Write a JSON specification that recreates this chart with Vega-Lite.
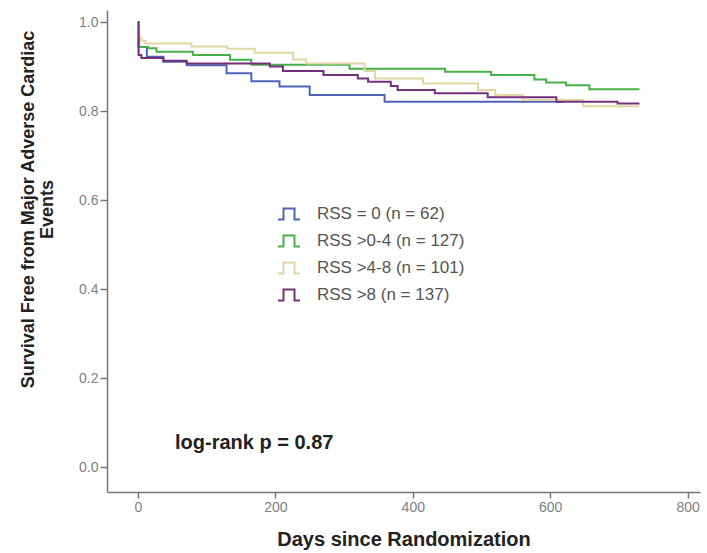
{
  "$schema": "https://vega.github.io/schema/vega-lite/v6.json",
  "width": 593,
  "height": 482,
  "autosize": {"type": "none"},
  "padding": {"left": 107, "top": 10, "right": 7, "bottom": 61},
  "background": "white",
  "config": {"view": {"stroke": null}, "font": "Liberation Sans"},
  "layer": [
    {
      "data": {"values": [
        {"group": "RSS = 0 (n = 62)", "day": 0, "surv": 1.0},
        {"group": "RSS = 0 (n = 62)", "day": 1, "surv": 0.944},
        {"group": "RSS = 0 (n = 62)", "day": 13, "surv": 0.922},
        {"group": "RSS = 0 (n = 62)", "day": 37, "surv": 0.911},
        {"group": "RSS = 0 (n = 62)", "day": 71, "surv": 0.903},
        {"group": "RSS = 0 (n = 62)", "day": 129, "surv": 0.885},
        {"group": "RSS = 0 (n = 62)", "day": 165, "surv": 0.867},
        {"group": "RSS = 0 (n = 62)", "day": 206, "surv": 0.855},
        {"group": "RSS = 0 (n = 62)", "day": 250, "surv": 0.836},
        {"group": "RSS = 0 (n = 62)", "day": 359, "surv": 0.821},
        {"group": "RSS = 0 (n = 62)", "day": 620, "surv": 0.821},

        {"group": "RSS >0-4 (n = 127)", "day": 0, "surv": 1.0},
        {"group": "RSS >0-4 (n = 127)", "day": 1, "surv": 0.944},
        {"group": "RSS >0-4 (n = 127)", "day": 15, "surv": 0.941},
        {"group": "RSS >0-4 (n = 127)", "day": 27, "surv": 0.933},
        {"group": "RSS >0-4 (n = 127)", "day": 80, "surv": 0.926},
        {"group": "RSS >0-4 (n = 127)", "day": 134, "surv": 0.915},
        {"group": "RSS >0-4 (n = 127)", "day": 165, "surv": 0.904},
        {"group": "RSS >0-4 (n = 127)", "day": 308, "surv": 0.895},
        {"group": "RSS >0-4 (n = 127)", "day": 447, "surv": 0.888},
        {"group": "RSS >0-4 (n = 127)", "day": 514, "surv": 0.881},
        {"group": "RSS >0-4 (n = 127)", "day": 577, "surv": 0.871},
        {"group": "RSS >0-4 (n = 127)", "day": 594, "surv": 0.864},
        {"group": "RSS >0-4 (n = 127)", "day": 623, "surv": 0.858},
        {"group": "RSS >0-4 (n = 127)", "day": 657, "surv": 0.849},
        {"group": "RSS >0-4 (n = 127)", "day": 730, "surv": 0.849},

        {"group": "RSS >4-8 (n = 101)", "day": 0, "surv": 1.0},
        {"group": "RSS >4-8 (n = 101)", "day": 1, "surv": 0.965},
        {"group": "RSS >4-8 (n = 101)", "day": 5, "surv": 0.958},
        {"group": "RSS >4-8 (n = 101)", "day": 11, "surv": 0.952},
        {"group": "RSS >4-8 (n = 101)", "day": 78, "surv": 0.945},
        {"group": "RSS >4-8 (n = 101)", "day": 130, "surv": 0.940},
        {"group": "RSS >4-8 (n = 101)", "day": 170, "surv": 0.931},
        {"group": "RSS >4-8 (n = 101)", "day": 226, "surv": 0.916},
        {"group": "RSS >4-8 (n = 101)", "day": 245, "surv": 0.907},
        {"group": "RSS >4-8 (n = 101)", "day": 330, "surv": 0.890},
        {"group": "RSS >4-8 (n = 101)", "day": 345, "surv": 0.873},
        {"group": "RSS >4-8 (n = 101)", "day": 415, "surv": 0.862},
        {"group": "RSS >4-8 (n = 101)", "day": 495, "surv": 0.847},
        {"group": "RSS >4-8 (n = 101)", "day": 520, "surv": 0.836},
        {"group": "RSS >4-8 (n = 101)", "day": 560, "surv": 0.825},
        {"group": "RSS >4-8 (n = 101)", "day": 648, "surv": 0.811},
        {"group": "RSS >4-8 (n = 101)", "day": 730, "surv": 0.811},

        {"group": "RSS >8 (n = 137)", "day": 0, "surv": 1.0},
        {"group": "RSS >8 (n = 137)", "day": 1, "surv": 0.926},
        {"group": "RSS >8 (n = 137)", "day": 5, "surv": 0.919},
        {"group": "RSS >8 (n = 137)", "day": 37, "surv": 0.913},
        {"group": "RSS >8 (n = 137)", "day": 71, "surv": 0.907},
        {"group": "RSS >8 (n = 137)", "day": 192, "surv": 0.900},
        {"group": "RSS >8 (n = 137)", "day": 211, "surv": 0.890},
        {"group": "RSS >8 (n = 137)", "day": 270, "surv": 0.881},
        {"group": "RSS >8 (n = 137)", "day": 320, "surv": 0.873},
        {"group": "RSS >8 (n = 137)", "day": 335, "surv": 0.866},
        {"group": "RSS >8 (n = 137)", "day": 368, "surv": 0.856},
        {"group": "RSS >8 (n = 137)", "day": 378, "surv": 0.847},
        {"group": "RSS >8 (n = 137)", "day": 432, "surv": 0.840},
        {"group": "RSS >8 (n = 137)", "day": 509, "surv": 0.831},
        {"group": "RSS >8 (n = 137)", "day": 609, "surv": 0.821},
        {"group": "RSS >8 (n = 137)", "day": 698, "surv": 0.817},
        {"group": "RSS >8 (n = 137)", "day": 730, "surv": 0.817}
      ]},
      "mark": {"type": "line", "interpolate": "step-after", "strokeWidth": 2},
      "encoding": {
        "x": {
          "field": "day", "type": "quantitative",
          "scale": {"domain": [-45, 818], "nice": false, "zero": false},
          "axis": {
            "values": [0, 200, 400, 600, 800], "format": "d", "grid": false,
            "tickSize": 6, "tickColor": "#777", "tickWidth": 1.5,
            "domainColor": "#777", "domainWidth": 1.5,
            "labelColor": "#808080", "labelFontSize": 14, "labelPadding": 2,
            "title": "Days since Randomization", "titleFontSize": 20,
            "titleFontWeight": "bold", "titleColor": "#222", "titlePadding": 15
          }
        },
        "y": {
          "field": "surv", "type": "quantitative",
          "scale": {"domain": [-0.056, 1.027], "nice": false, "zero": false},
          "axis": {
            "values": [0, 0.2, 0.4, 0.6, 0.8, 1.0], "format": ".1f", "grid": false,
            "tickSize": 7, "tickColor": "#777", "tickWidth": 1.5,
            "domainColor": "#777", "domainWidth": 1.5,
            "labelColor": "#808080", "labelFontSize": 14, "labelPadding": 2,
            "title": ["Survival Free from Major Adverse Cardiac", "Events"],
            "titleFontSize": 18, "titleFontWeight": "bold", "titleColor": "#222",
            "titlePadding": 22, "titleY": 199, "titleLineHeight": 19
          }
        },
        "color": {
          "field": "group", "type": "nominal",
          "scale": {
            "domain": ["RSS = 0 (n = 62)", "RSS >0-4 (n = 127)", "RSS >4-8 (n = 101)", "RSS >8 (n = 137)"],
            "range": ["#4f63b8", "#47b04b", "#e3d6a3", "#74307a"]
          },
          "legend": {
            "orient": "none", "legendX": 170, "legendY": 192, "title": null, "padding": 0,
            "symbolType": "M-1,0.5H-0.5V-0.5H0.5V0.5H1",
            "symbolSize": 484, "symbolStrokeWidth": 2, "symbolFillColor": "transparent",
            "labelFontSize": 17, "labelColor": "#555", "labelOffset": 16, "rowPadding": 5
          }
        }
      }
    },
    {
      "data": {"values": [{"day": 54, "surv": 0.054, "label": "log-rank p = 0.87"}]},
      "mark": {"type": "text", "align": "left", "baseline": "middle", "fontSize": 20, "fontWeight": "bold", "color": "#222"},
      "encoding": {
        "x": {"field": "day", "type": "quantitative"},
        "y": {"field": "surv", "type": "quantitative"},
        "text": {"field": "label"}
      }
    }
  ]
}
